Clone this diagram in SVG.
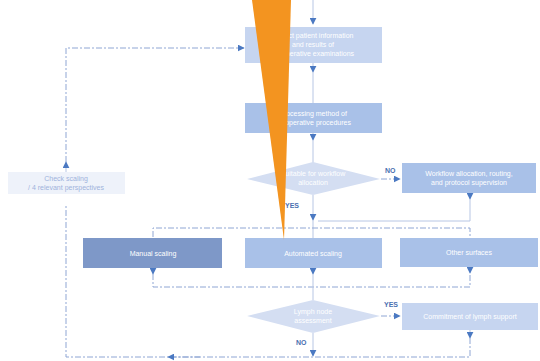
<svg xmlns="http://www.w3.org/2000/svg" width="540" height="361" viewBox="0 0 540 361">
  <style>
    .box { fill: #a9c1e8; }
    .pale { fill: #c6d5f0; }
    .dia { fill: #d4def2; }
    .dark { fill: #7e98c8; }
    .lbl { font-family: "Liberation Sans", Arial, sans-serif; font-size: 7px; fill: #ffffff; text-anchor: middle; }
    .tag { font-family: "Liberation Sans", Arial, sans-serif; font-size: 7px; font-weight: bold; fill: #4a6fb0; }
    .ln { stroke: #b7c6e4; stroke-width: 1; fill: none; }
    .dash { stroke: #8fa6d4; stroke-width: 1; fill: none; stroke-dasharray: 6 2 2 2; }
  </style>
  <defs>
    <marker id="ah" viewBox="0 0 10 10" refX="9" refY="5" markerWidth="7" markerHeight="7" orient="auto-start-reverse">
      <path d="M0,0 L10,5 L0,10 z" fill="#4b79c2"/>
    </marker>
  </defs>
  <rect width="540" height="361" fill="#ffffff"/>

  <g id="connectors">
    <line class="ln" x1="313" y1="0" x2="313" y2="24" marker-end="url(#ah)"/>
    <line class="ln" x1="313" y1="62" x2="313" y2="72" marker-end="url(#ah)"/>
    <line class="ln" x1="313" y1="72" x2="313" y2="103"/>
    <line class="ln" x1="313" y1="133" x2="313" y2="140" marker-end="url(#ah)"/>
    <line class="ln" x1="313" y1="140" x2="313" y2="163"/>
    <line class="dash" x1="381" y1="179" x2="400" y2="179" marker-end="url(#ah)"/>
    <line class="ln" x1="470" y1="193" x2="470" y2="199" marker-end="url(#ah)"/>
    <polyline class="ln" points="470,199 470,221 318,221"/>
    <line class="ln" x1="313" y1="195" x2="313" y2="220" marker-end="url(#ah)"/>
    <line class="ln" x1="313" y1="220" x2="313" y2="238"/>
    <polyline class="dash" points="153,237 153,228 470,228 470,237"/>
    <line class="ln" x1="153" y1="268" x2="153" y2="274" marker-end="url(#ah)"/>
    <line class="ln" x1="313" y1="268" x2="313" y2="274" marker-end="url(#ah)"/>
    <line class="ln" x1="470" y1="267" x2="470" y2="273" marker-end="url(#ah)"/>
    <polyline class="dash" points="153,274 153,287 470,287 470,273"/>
    <line class="ln" x1="313" y1="274" x2="313" y2="300"/>
    <line class="dash" x1="381" y1="316" x2="400" y2="316" marker-end="url(#ah)"/>
    <line class="ln" x1="313" y1="333" x2="313" y2="356" marker-end="url(#ah)"/>
    <line class="ln" x1="470" y1="330" x2="470" y2="338" marker-end="url(#ah)"/>
    <polyline class="dash" points="470,338 470,357 66,357 66,204"/>
    <line class="dash" x1="200" y1="357" x2="168" y2="357" marker-end="url(#ah)"/>
    <line class="ln" x1="66" y1="172" x2="66" y2="162" marker-end="url(#ah)"/>
    <polyline class="dash" points="66,162 66,48 244,48" marker-end="url(#ah)"/>
  </g>

  <g id="collect">
    <rect class="pale" x="245" y="27" width="137" height="36"/>
    <text class="lbl" x="313" y="38">Collect patient information</text>
    <text class="lbl" x="313" y="47">and results of</text>
    <text class="lbl" x="313" y="56">preoperative examinations</text>
  </g>
  <g id="processing">
    <rect class="box" x="245" y="103" width="137" height="30"/>
    <text class="lbl" x="313" y="116">Processing method of</text>
    <text class="lbl" x="313" y="125">preoperative procedures</text>
  </g>
  <g id="decision-1">
    <polygon class="dia" points="313,162 380,179 313,195 247,179"/>
    <text class="lbl" x="313" y="176">Suitable for workflow</text>
    <text class="lbl" x="313" y="185">allocation</text>
    <text class="tag" x="385" y="173">NO</text>
    <text class="tag" x="285" y="208">YES</text>
  </g>
  <g id="workflow">
    <rect class="box" x="402" y="163" width="134" height="30"/>
    <text class="lbl" x="469" y="176">Workflow allocation, routing,</text>
    <text class="lbl" x="469" y="185">and protocol supervision</text>
  </g>
  <g id="check-scaling">
    <rect x="8" y="172" width="117" height="22" fill="#eef2fa"/>
    <text class="lbl" x="66" y="181" fill="#9fb3dc" style="fill:#9fb3dc">Check scaling</text>
    <text class="lbl" x="66" y="190" style="fill:#9fb3dc">/ 4 relevant perspectives</text>
  </g>
  <g id="manual-scaling">
    <rect class="dark" x="83" y="238" width="139" height="30"/>
    <text class="lbl" x="153" y="256">Manual scaling</text>
  </g>
  <g id="automated-scaling">
    <rect class="box" x="245" y="238" width="137" height="30"/>
    <text class="lbl" x="313" y="256">Automated scaling</text>
  </g>
  <g id="other-surfaces">
    <rect class="box" x="400" y="238" width="138" height="29"/>
    <text class="lbl" x="469" y="255">Other surfaces</text>
  </g>
  <g id="decision-2">
    <polygon class="dia" points="313,300 380,316 313,333 247,316"/>
    <text class="lbl" x="313" y="314">Lymph node</text>
    <text class="lbl" x="313" y="323">assessment</text>
    <text class="tag" x="384" y="307">YES</text>
    <text class="tag" x="296" y="345">NO</text>
  </g>
  <g id="lymph-support">
    <rect class="pale" x="402" y="303" width="136" height="27"/>
    <text class="lbl" x="470" y="319">Commitment of lymph support</text>
  </g>

  <!-- orange wedge laid over the chart -->
  <polygon points="252,0 291,0 284,240" fill="#f39420"/>
</svg>
